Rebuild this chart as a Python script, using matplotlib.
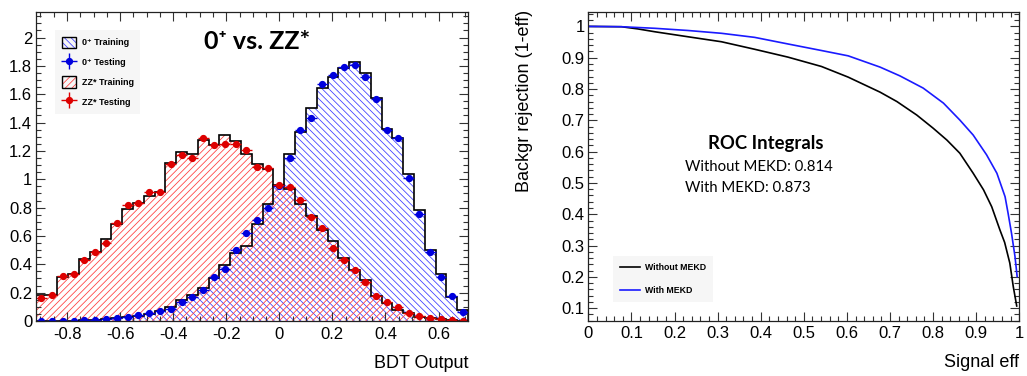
import matplotlib
matplotlib.use('Agg')
import matplotlib.pyplot as plt
from matplotlib.patches import Patch
from matplotlib.lines import Line2D
from matplotlib.ticker import MultipleLocator, FuncFormatter
import numpy as np

# --- BDT output, 40 bins, normalised ---
BDT_RANGE = (-0.918, 0.711)
N_BINS = 40

sig_train = [0.0, 0.0, 0.0, 0.003, 0.005, 0.008, 0.012, 0.018, 0.025, 0.035,
             0.05, 0.068, 0.10, 0.146, 0.185, 0.235, 0.306, 0.395, 0.482, 0.529,
             0.687, 0.828, 0.957, 1.178, 1.331, 1.505, 1.647, 1.72, 1.783, 1.825,
             1.752, 1.575, 1.357, 1.292, 1.04, 0.783, 0.501, 0.332, 0.172, 0.078]
sig_test = [0.0, 0.0, 0.002, 0.003, 0.007, 0.007, 0.012, 0.019, 0.028, 0.04,
            0.053, 0.068, 0.088, 0.133, 0.17, 0.222, 0.31, 0.368, 0.502, 0.62,
            0.715, 0.795, 0.955, 1.15, 1.35, 1.432, 1.672, 1.736, 1.79, 1.807,
            1.724, 1.565, 1.35, 1.289, 1.007, 0.755, 0.489, 0.313, 0.176, 0.066]
bkg_train = [0.18, 0.18, 0.31, 0.335, 0.44, 0.49, 0.576, 0.687, 0.79, 0.835,
             0.88, 0.91, 1.113, 1.192, 1.178, 1.277, 1.242, 1.31, 1.267, 1.176,
             1.11, 1.07, 0.955, 0.929, 0.824, 0.741, 0.642, 0.567, 0.442, 0.36,
             0.289, 0.176, 0.129, 0.078, 0.054, 0.031, 0.019, 0.012, 0.007, 0.003]
bkg_test = [0.16, 0.185, 0.32, 0.33, 0.43, 0.49, 0.55, 0.69, 0.82, 0.835,
            0.91, 0.91, 1.105, 1.17, 1.148, 1.29, 1.245, 1.252, 1.252, 1.205,
            1.087, 1.082, 0.96, 0.943, 0.854, 0.733, 0.655, 0.518, 0.432, 0.357,
            0.278, 0.174, 0.136, 0.096, 0.059, 0.035, 0.024, 0.012, 0.007, 0.002]
TEST_ERR = 0.02

# --- ROC curves ---
eff_without = [0.0, 0.077, 0.115, 0.154, 0.231, 0.309, 0.386, 0.463, 0.541, 0.603,
               0.677, 0.716, 0.762, 0.800, 0.832, 0.862, 0.893, 0.917, 0.936, 0.955,
               0.966, 0.978, 0.986, 0.994]
rej_without = [1.0, 0.999, 0.992, 0.983, 0.967, 0.951, 0.927, 0.902, 0.872, 0.838,
               0.790, 0.760, 0.717, 0.675, 0.637, 0.595, 0.531, 0.478, 0.424, 0.350,
               0.310, 0.244, 0.169, 0.107]
eff_with = [0.0, 0.077, 0.154, 0.231, 0.309, 0.386, 0.463, 0.541, 0.603, 0.677,
            0.723, 0.777, 0.824, 0.862, 0.893, 0.924, 0.948, 0.967, 0.974, 0.982,
            0.990, 0.995]
rej_with = [1.0, 0.999, 0.994, 0.987, 0.978, 0.965, 0.944, 0.923, 0.906, 0.870,
            0.842, 0.803, 0.755, 0.701, 0.653, 0.590, 0.531, 0.456, 0.403, 0.339,
            0.265, 0.201]
roc_labels = ['Without MEKD', 'With MEKD']
roc_integrals = [0.814, 0.873]

BLUE = '#0000dd'
RED = '#dd0000'
HATCH_BLUE = '#3a3aff'
HATCH_RED = '#ff3a3a'
SIG_HATCH = '\\\\\\\\\\'
BKG_HATCH = '/////'

plt.rcParams['font.family'] = ['Liberation Sans', 'DejaVu Sans']
plt.rcParams['axes.unicode_minus'] = False
plt.rcParams['hatch.linewidth'] = 0.55

W, H = 1027, 376
fig = plt.figure(figsize=(W / 100, H / 100), dpi=100)


def px_axes(x0, y0, x1, y1):
    """Axes placed by pixel box (top-left origin)."""
    return fig.add_axes([x0 / W, 1 - y1 / H, (x1 - x0) / W, (y1 - y0) / H])


def root_style(ax, xmaj, xmin, ymaj, ymin):
    fmt = FuncFormatter(lambda v, p: '%g' % (round(v, 6) + 0.0))
    ax.xaxis.set_major_locator(MultipleLocator(xmaj))
    ax.xaxis.set_minor_locator(MultipleLocator(xmin))
    ax.yaxis.set_major_locator(MultipleLocator(ymaj))
    ax.yaxis.set_minor_locator(MultipleLocator(ymin))
    ax.xaxis.set_major_formatter(fmt)
    ax.yaxis.set_major_formatter(fmt)
    ax.tick_params(which='both', direction='in', top=True, right=True,
                   width=0.8, color='#333333')
    ax.tick_params(which='major', length=6.5, labelsize=12)
    ax.tick_params(which='minor', length=3.4)
    ax.tick_params(axis='x', pad=4)
    ax.tick_params(axis='y', pad=2.5)
    for s in ax.spines.values():
        s.set_linewidth(0.9)
        s.set_color('#222222')


def test_handle(color):
    # marker with error-bar cross, as in the ROOT legend
    cross = Line2D([], [], marker='+', ms=11, mew=1.0, color=color, ls='none')
    dot = Line2D([], [], marker='o', ms=4.2, color=color, ls='none')
    return (cross, dot)


# ---------------- left: BDT output ----------------
ax1 = px_axes(35.7, 12, 468, 321)
edges = np.linspace(BDT_RANGE[0], BDT_RANGE[1], N_BINS + 1)
centers = 0.5 * (edges[:-1] + edges[1:])
half = 0.5 * (edges[1] - edges[0])

ax1.stairs(sig_train, edges, fill=True, facecolor='none', edgecolor=HATCH_BLUE,
           hatch=SIG_HATCH, linewidth=0)
ax1.stairs(bkg_train, edges, fill=True, facecolor='none', edgecolor=HATCH_RED,
           hatch=BKG_HATCH, linewidth=0)
ax1.stairs(sig_train, edges, color='black', linewidth=1.2)
ax1.stairs(bkg_train, edges, color='black', linewidth=1.2)

ax1.errorbar(centers, sig_test, xerr=half, yerr=TEST_ERR, fmt='o',
             color=BLUE, ms=4.2, elinewidth=1.0, capsize=0)
ax1.errorbar(centers, bkg_test, xerr=half, yerr=TEST_ERR, fmt='o',
             color=RED, ms=4.2, elinewidth=1.0, capsize=0)

ax1.set_xlim(*BDT_RANGE)
ax1.set_ylim(0, 2.18)
root_style(ax1, 0.2, 0.05, 0.2, 0.05)
ax1.set_xlabel('BDT Output', fontsize=13, loc='right')
ax1.xaxis.set_label_coords(1.0, -0.136)
ax1.xaxis.label.set_va('center')

ax1.text(0.512, 0.903, '0⁺ vs. ZZ*', transform=ax1.transAxes, ha='center',
         va='center', fontsize=18, fontweight='bold',
         family=['Lato', 'DejaVu Sans'])

box_edge = Patch(facecolor='none', edgecolor='black', linewidth=1.0)
h_sig = (Patch(facecolor='none', edgecolor=HATCH_BLUE, hatch=SIG_HATCH, linewidth=0), box_edge)
h_bkg = (Patch(facecolor='none', edgecolor=HATCH_RED, hatch=BKG_HATCH, linewidth=0), box_edge)
ax1.legend([h_sig, test_handle(BLUE), h_bkg, test_handle(RED)],
           ['0⁺ Training', '0⁺ Testing', 'ZZ* Training', 'ZZ* Testing'],
           loc='upper left', bbox_to_anchor=(0.035, 0.955),
           prop={'size': 6.5, 'weight': 'bold'},
           handlelength=1.6, handleheight=1.6, handletextpad=0.6,
           labelspacing=0.9, borderpad=0.7, frameon=True,
           fancybox=False, facecolor='#f6f6f6', edgecolor='none',
           framealpha=1)

# ---------------- right: ROC curves ----------------
ax2 = px_axes(588.3, 11.7, 1019.3, 320.7)
ax2.plot(eff_without, rej_without, color='black', linewidth=1.2, label=roc_labels[0])
ax2.plot(eff_with, rej_with, color='#1a1aff', linewidth=1.2, label=roc_labels[1])
ax2.set_xlim(0, 1)
ax2.set_ylim(0.060, 1.047)
root_style(ax2, 0.1, 0.02, 0.1, 0.02)
ax2.set_xlabel('Signal eff', fontsize=13, loc='right')
ax2.xaxis.set_label_coords(1.0, -0.136)
ax2.xaxis.label.set_va('center')
ax2.set_ylabel('Backgr rejection (1-eff)', fontsize=13, loc='top')
ax2.yaxis.set_label_coords(-0.147, 1.005)
ax2.yaxis.label.set_va('center')

ax2.legend(loc='upper left', bbox_to_anchor=(0.046, 0.222),
           prop={'size': 6.3, 'weight': 'bold'}, handlelength=2.3,
           handletextpad=0.6, labelspacing=1.6, borderpad=0.8, frameon=True,
           fancybox=False, facecolor='#f6f6f6', edgecolor='none', framealpha=1)

lato = ['Lato', 'DejaVu Sans']
fig.text(766 / W, 1 - 144 / H, 'ROC Integrals', ha='center', va='center',
         fontsize=13.3, fontweight='bold', family=lato)
fig.text(685 / W, 1 - 167 / H, f'{roc_labels[0]}: {roc_integrals[0]:.3f}',
         ha='left', va='center', fontsize=10.7, family=lato)
fig.text(685 / W, 1 - 188 / H, f'{roc_labels[1]}: {roc_integrals[1]:.3f}',
         ha='left', va='center', fontsize=10.7, family=lato)

fig.savefig('out.png', dpi=100)
